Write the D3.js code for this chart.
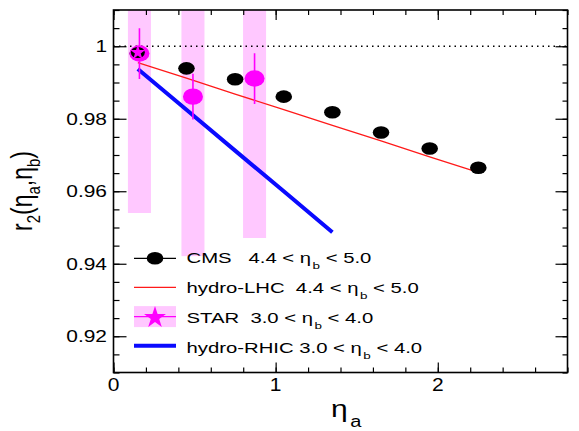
<!DOCTYPE html>
<html>
<head>
<meta charset="utf-8">
<script src="https://cdn.jsdelivr.net/npm/d3@7"></script>
<style>
  html, body { margin: 0; padding: 0; background: #fff; }
  svg { display: block; font-family: "Liberation Sans", Arial, Helvetica, sans-serif; }
</style>
</head>
<body>
<svg id="chart" width="579" height="431"></svg>
<script>
// CMS data, 4.4 < eta_b < 5.0
const cmsX = [0.15, 0.45, 0.75, 1.05, 1.35, 1.65, 1.95, 2.25];
const cmsY = [0.998, 0.9939, 0.9909, 0.9861, 0.9818, 0.9762, 0.9718, 0.9665];

// hydro prediction for LHC, 4.4 < eta_b < 5.0
const lhcX = [0.15, 0.45, 0.75, 1.05, 1.35, 1.65, 1.95, 2.25];
const lhcY = [0.9955, 0.9912, 0.9868, 0.9825, 0.9782, 0.9739, 0.9695, 0.9652];

// STAR data, 3.0 < eta_b < 4.0 (stat. errors and systematic bands)
const starX = [0.16, 0.49, 0.87];
const starY = [0.998, 0.9861, 0.9911];
const starErr = [0.007, 0.0063, 0.007];
const starSys = [0.044, 0.044, 0.044];
const starSysHalfWidth = 0.071;

// hydro prediction for RHIC, 3.0 < eta_b < 4.0
const rhicX = [0.15, 0.45, 0.75, 1.05, 1.35];
const rhicY = [0.9937, 0.9825, 0.9712, 0.96, 0.9487];

// axis ticks
const xMajor = [0, 1, 2];
const xMinor = d3.range(0, 2.81, 0.2);
const yMajor = [0.92, 0.94, 0.96, 0.98, 1];
const yMinor = d3.range(0.91, 1.0101, 0.005);
const yLabels = ["0.92", "0.94", "0.96", "0.98", "1"];
const xLabels = ["0", "1", "2"];

const legendEntries = [
  { key: "cms",  label: "CMS", range: ["4.4", "5.0"], gap: "   " },
  { key: "lhc",  label: "hydro-LHC", range: ["4.4", "5.0"], gap: "  " },
  { key: "star", label: "STAR", range: ["3.0", "4.0"], gap: "  " },
  { key: "rhic", label: "hydro-RHIC", range: ["3.0", "4.0"], gap: " " }
];

const L = 113.5, R = 567.5, T = 10, B = 372.5;
const svg = d3.select("#chart");
const x = d3.scaleLinear().domain([0, 2.8]).range([L, R]);
const y = d3.scaleLinear().domain([0.91, 1.01]).range([B, T]);

const pink = "#ffc8ff", magenta = "#ff00ff", blue = "#0a0aff", red = "#ff1a1a";

// text is set in a wide face: glyphs are stretched horizontally
function wideText(parent, px, py, sx, size) {
  return parent.append("text")
    .attr("transform", `translate(${px},${py}) scale(${sx},1)`)
    .attr("font-size", size).attr("fill", "#000");
}

svg.append("defs").append("clipPath").attr("id", "plotclip")
  .append("rect").attr("x", L).attr("y", T).attr("width", R - L).attr("height", B - T);

const plot = svg.append("g").attr("clip-path", "url(#plotclip)");

// STAR systematic bands
plot.selectAll("rect.sys").data(starX).join("rect")
  .attr("class", "sys")
  .attr("x", (d) => x(d - starSysHalfWidth))
  .attr("width", (d) => x(d + starSysHalfWidth) - x(d - starSysHalfWidth))
  .attr("y", (d, i) => y(starY[i] + starSys[i]))
  .attr("height", (d, i) => y(starY[i] - starSys[i]) - y(starY[i] + starSys[i]))
  .attr("fill", pink);

// reference line at unity
plot.append("line")
  .attr("x1", L).attr("x2", R).attr("y1", y(1)).attr("y2", y(1))
  .attr("stroke", "#000").attr("stroke-width", 1.3).attr("stroke-dasharray", "1.5,4");

// hydro curves
const line = d3.line().x((d) => x(d[0])).y((d) => y(d[1]));
plot.append("path").datum(rhicX.map((v, i) => [v, rhicY[i]]))
  .attr("d", line).attr("fill", "none").attr("stroke", blue).attr("stroke-width", 4);
plot.append("path").datum(lhcX.map((v, i) => [v, lhcY[i]]))
  .attr("d", line).attr("fill", "none").attr("stroke", red).attr("stroke-width", 1.3);

// CMS points
plot.selectAll("ellipse.cms").data(cmsX).join("ellipse")
  .attr("class", "cms")
  .attr("cx", (d) => x(d)).attr("cy", (d, i) => y(cmsY[i]))
  .attr("rx", 8.3).attr("ry", 6.3).attr("fill", "#000");

// STAR points with error bars
plot.selectAll("line.err").data(starX).join("line")
  .attr("class", "err")
  .attr("x1", (d) => x(d)).attr("x2", (d) => x(d))
  .attr("y1", (d, i) => y(starY[i] + starErr[i]))
  .attr("y2", (d, i) => y(starY[i] - starErr[i]))
  .attr("stroke", magenta).attr("stroke-width", 1.6);
plot.selectAll("ellipse.star").data(starX).join("ellipse")
  .attr("class", "star")
  .attr("cx", (d) => x(d)).attr("cy", (d, i) => y(starY[i]))
  .attr("rx", 10).attr("ry", 8.2).attr("fill", magenta);

// overlapping CMS point at the first bin, with a star marker
const star = d3.symbol().type(d3.symbolStar);
plot.append("ellipse")
  .attr("cx", x(cmsX[0])).attr("cy", y(cmsY[0]) - 1)
  .attr("rx", 7).attr("ry", 5.5).attr("fill", "#000");
plot.append("path")
  .attr("d", star.size(70)())
  .attr("transform", `translate(${x(cmsX[0])},${y(cmsY[0]) - 1})`)
  .attr("fill", magenta);

// axes (ticks only, pointing into the frame)
function axisGroup(axis, tx, ty) {
  const g = svg.append("g").attr("transform", `translate(${tx},${ty})`).call(axis);
  g.select(".domain").remove();
  g.selectAll(".tick text").remove();
  g.selectAll(".tick line").attr("stroke", "#000").attr("stroke-width", 1.2);
  return g;
}
axisGroup(d3.axisLeft(y).tickValues(yMinor).tickSize(-6), L, 0);
axisGroup(d3.axisLeft(y).tickValues(yMajor).tickSize(-13), L, 0);
axisGroup(d3.axisRight(y).tickValues(yMinor).tickSize(-5), R, 0);
axisGroup(d3.axisRight(y).tickValues(yMajor).tickSize(-12), R, 0);
axisGroup(d3.axisBottom(x).tickValues(xMinor).tickSize(-5), 0, B);
axisGroup(d3.axisBottom(x).tickValues(xMajor).tickSize(-10), 0, B);
axisGroup(d3.axisTop(x).tickValues(xMinor).tickSize(-5), 0, T);
axisGroup(d3.axisTop(x).tickValues(xMajor).tickSize(-10), 0, T);

// tick labels
yMajor.forEach((v, i) => {
  wideText(svg, L - 6.5, y(v) + 6, 1.23, 17).attr("text-anchor", "end").text(yLabels[i]);
});
xMajor.forEach((v, i) => {
  wideText(svg, x(v), 390.5, 1.2, 17.5).attr("text-anchor", "middle").text(xLabels[i]);
});

// frame
svg.append("rect").attr("x", L).attr("y", T).attr("width", R - L).attr("height", B - T)
  .attr("fill", "none").attr("stroke", "#000").attr("stroke-width", 1.6);

// axis titles
const yt = svg.append("text")
  .attr("transform", `translate(32,191) scale(1.25,1) rotate(-90)`)
  .attr("text-anchor", "middle").attr("font-size", 23).attr("fill", "#000");
yt.append("tspan").text("r");
yt.append("tspan").attr("font-size", 15).attr("dy", 6).text("2");
yt.append("tspan").attr("dy", -6).text("(\u03b7");
yt.append("tspan").attr("font-size", 15).attr("dy", 6).text("a");
yt.append("tspan").attr("dy", -6).text(",\u03b7");
yt.append("tspan").attr("font-size", 15).attr("dy", 6).text("b");
yt.append("tspan").attr("dy", -6).text(")");

const xt = wideText(svg, 331, 416.5, 1.25, 24);
xt.append("tspan").text("\u03b7");
xt.append("tspan").attr("font-size", 16).attr("dy", 10).attr("dx", 2).text("a");

// legend
const symY0 = 258.3, symDy = 29.15, textY0 = 263.3, textDy = 29.8;
const symX0 = 134, symX1 = 176, textX = 186.5;
legendEntries.forEach((e, i) => {
  const cy = symY0 + i * symDy;
  const g = svg.append("g");
  if (e.key === "cms") {
    g.append("line").attr("x1", symX0).attr("x2", symX1).attr("y1", cy).attr("y2", cy)
      .attr("stroke", "#000").attr("stroke-width", 1.3);
    g.append("ellipse").attr("cx", (symX0 + symX1) / 2).attr("cy", cy).attr("rx", 8.3).attr("ry", 6.3).attr("fill", "#000");
  } else if (e.key === "lhc") {
    g.append("line").attr("x1", symX0).attr("x2", symX1).attr("y1", cy).attr("y2", cy)
      .attr("stroke", red).attr("stroke-width", 1.3);
  } else if (e.key === "star") {
    g.append("rect").attr("x", symX0).attr("y", cy - 10.5).attr("width", symX1 - symX0).attr("height", 21).attr("fill", pink);
    g.append("line").attr("x1", symX0).attr("x2", symX1).attr("y1", cy).attr("y2", cy)
      .attr("stroke", magenta).attr("stroke-width", 1.3);
    g.append("path").attr("d", star.size(150)()).attr("transform", `translate(${(symX0 + symX1) / 2},${cy + 1})`).attr("fill", magenta);
  } else {
    g.append("line").attr("x1", symX0).attr("x2", symX1).attr("y1", cy).attr("y2", cy)
      .attr("stroke", blue).attr("stroke-width", 4);
  }
  const t = wideText(g, textX, textY0 + i * textDy, 1.42, 14.3).attr("xml:space", "preserve");
  t.append("tspan").text(`${e.label}${e.gap}${e.range[0]} < \u03b7`);
  t.append("tspan").attr("font-size", 9.5).attr("dy", 6).attr("dx", 1).text("b");
  t.append("tspan").attr("dy", -6).text(` < ${e.range[1]}`);
});
</script>
</body>
</html>
